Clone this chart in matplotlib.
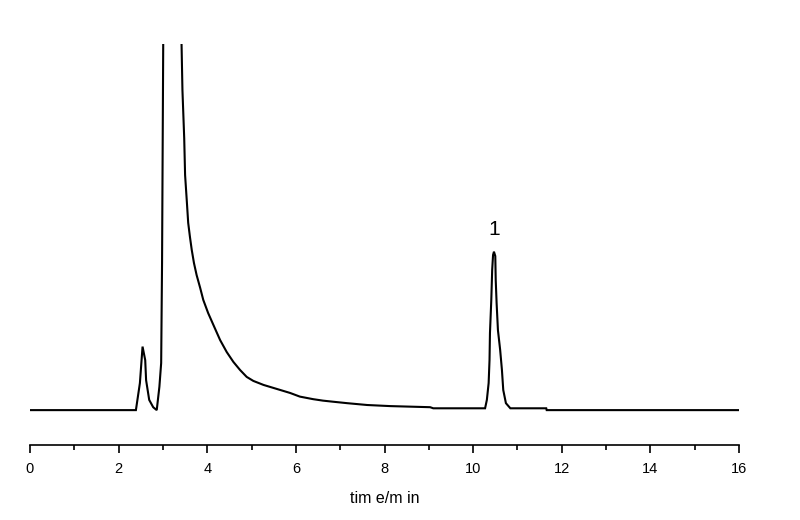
import matplotlib
matplotlib.use('Agg')
import matplotlib.pyplot as plt
from matplotlib.ticker import MultipleLocator

plt.rcParams['font.family'] = ['Liberation Sans', 'DejaVu Sans']

# retention time (min) and detector signal (arbitrary units, baseline = 0)
# baseline + small early peak
time_a = [0.0, 2.39, 2.48, 2.54, 2.60, 2.62, 2.69, 2.78, 2.86, 2.92, 2.96]
sig_a = [-0.3, -0.3, 7.1, 17.1, 13.4, 7.9, 2.5, 0.5, -0.3, 6.1, 12.6]
# solvent peak (off scale) and its tail
time_b = [2.98, 3.05, 3.20, 3.35, 3.41, 3.42, 3.44, 3.48, 3.50, 3.54, 3.57,
          3.61, 3.65, 3.70, 3.76, 3.84, 3.91, 4.02, 4.14, 4.29, 4.44, 4.59,
          4.74, 4.89, 5.04, 5.27, 5.57, 5.87, 6.09, 6.39, 6.61, 6.84, 7.16,
          7.61, 8.13, 9.03, 9.10]
sig_b = [40.0, 200.0, 400.0, 250.0, 130.0, 100.0, 87.4, 74.2, 64.1, 56.7, 51.0,
         47.1, 43.6, 40.0, 36.7, 33.2, 29.9, 26.3, 23.0, 18.9, 15.6, 12.9,
         10.7, 8.8, 7.7, 6.6, 5.5, 4.4, 3.4, 2.7, 2.3, 2.0, 1.6,
         1.1, 0.8, 0.5, 0.2]
# peak 1 and the rest of the baseline
time_c = [10.27, 10.31, 10.35, 10.37, 10.38, 10.41, 10.43, 10.45, 10.47,
          10.50, 10.51, 10.53, 10.56, 10.61, 10.65, 10.68, 10.74, 10.84,
          11.65, 11.66, 16.0]
sig_c = [0.2, 2.5, 7.1, 13.4, 20.8, 29.9, 38.1, 42.2, 43.1,
         41.9, 35.3, 29.0, 21.6, 16.2, 10.7, 5.2, 1.6, 0.2,
         0.2, -0.3, -0.3]

time = time_a + time_b + time_c
signal = sig_a + sig_b + sig_c

peak_labels = ['1']
peak_times = [10.47]
peak_heights = [43.1]

fig = plt.figure(figsize=(8, 5.2), dpi=100)
ax = fig.add_axes([0.0375, 0.1442, 0.88625, 0.7712])

ax.plot(time, signal, color='black', linewidth=1.5, solid_joinstyle='miter')

for lab, t, h in zip(peak_labels, peak_times, peak_heights):
    ax.annotate(lab, (t, h), xytext=(0, 9), textcoords='offset points',
                ha='center', va='bottom', fontsize=15)

ax.set_xlim(0, 16)
ax.set_ylim(-9.86, 100)

for s in ['top', 'right', 'left']:
    ax.spines[s].set_visible(False)
ax.spines['bottom'].set_linewidth(1.2)

ax.set_yticks([])
ax.xaxis.set_major_locator(MultipleLocator(2))
ax.xaxis.set_minor_locator(MultipleLocator(1))
ax.tick_params(axis='x', which='major', direction='out', length=6, width=1.2,
               labelsize=10.5, pad=6)
ax.tick_params(axis='x', which='minor', direction='out', length=3.5, width=1.2)

ax.set_xlabel('tim e/m in', fontsize=11.5, labelpad=11)

fig.savefig('out.png', dpi=100)
